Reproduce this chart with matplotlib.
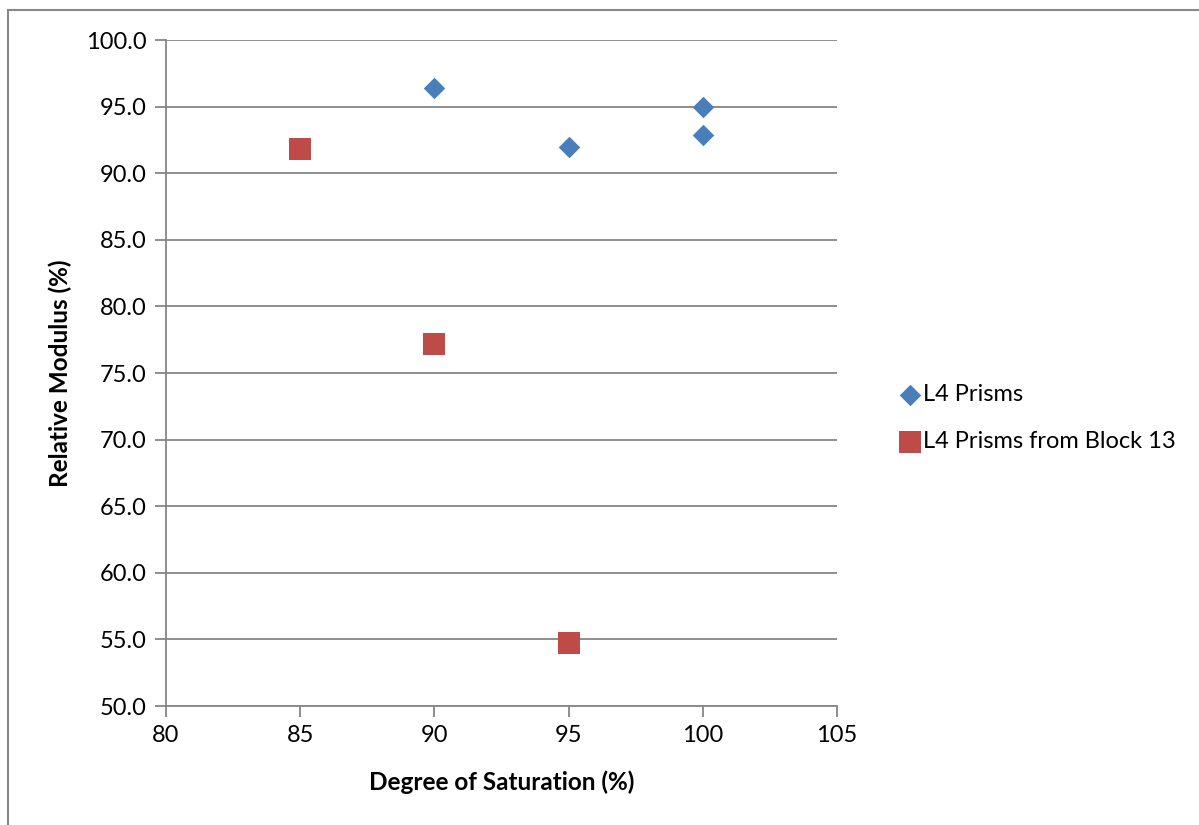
import matplotlib.pyplot as plt
from matplotlib.lines import Line2D

plt.rcParams['font.family'] = ['Lato', 'DejaVu Sans']

# L4 Prisms
x_prisms = [90, 95, 100, 100]
y_prisms = [96.4, 92.0, 95.0, 92.9]
# L4 Prisms from Block 13
x_block = [85, 90, 95]
y_block = [91.8, 77.2, 54.7]

fig = plt.figure(figsize=(11.99, 8.25), dpi=100)
ax = fig.add_axes([0.1384, 0.1442, 0.698 - 0.1384, 0.9515 - 0.1442])

# chart frame (left and top edges visible)
bx, by = 7.5 / 1199, 1 - 9.5 / 825
fig.add_artist(Line2D([bx, bx], [0, by], transform=fig.transFigure, color='#888888', lw=1.5))
fig.add_artist(Line2D([bx, 0.999], [by, by], transform=fig.transFigure, color='#888888', lw=1.5))

ax.scatter(x_prisms, y_prisms, marker='D', s=120, color='#4a7ebb', label='L4 Prisms', zorder=3, linewidths=0)
ax.scatter(x_block, y_block, marker='s', s=270, color='#be4b48', label='L4 Prisms from Block 13', zorder=3, linewidths=0)

ax.set_xlim(80, 105)
ax.set_ylim(50, 100)
ax.set_xticks(range(80, 106, 5))
ax.set_yticks(range(50, 101, 5))
ax.set_yticklabels([f'{v:.1f}' for v in range(50, 101, 5)])
ax.grid(axis='y', color='#868686', lw=1.3)
ax.set_axisbelow(True)
for s in ['top', 'right']:
    ax.spines[s].set_visible(False)
for s in ['left', 'bottom']:
    ax.spines[s].set_color('#868686')
    ax.spines[s].set_linewidth(1.3)
ax.tick_params(axis='both', colors='#868686', labelcolor='black', labelsize=17, length=8, width=1.3)
ax.tick_params(axis='x', pad=6)
ax.tick_params(axis='y', pad=6)

ax.set_xlabel('Degree of Saturation (%)', fontsize=17.5, fontweight='bold', labelpad=17)
ax.set_ylabel('Relative Modulus (%)', fontsize=17.5, fontweight='bold', labelpad=10)

ax.legend(loc='center left', bbox_to_anchor=(1.077, 0.432), frameon=False, fontsize=17,
          handletextpad=0.05, labelspacing=1.1, borderaxespad=0, handlelength=1.0)

fig.savefig('out.png', dpi=100)
